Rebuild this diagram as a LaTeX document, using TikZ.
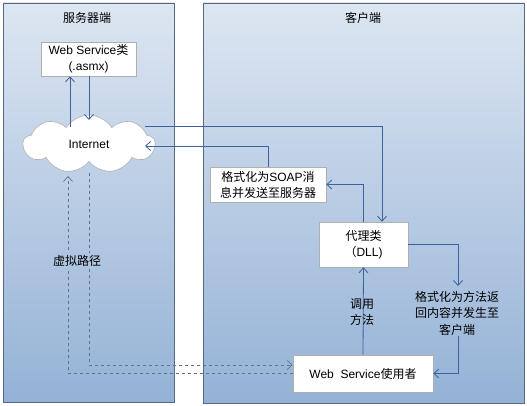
\documentclass[tikz,border=0pt]{standalone}
\usepackage{fontspec}
\setmainfont{Liberation Sans}
\newfontfamily\cjk{Noto Sans CJK SC}
\newcommand{\zh}[1]{{\cjk #1}}
\usetikzlibrary{shapes.symbols,arrows.meta}
\definecolor{paneltop}{RGB}{221,230,242}
\definecolor{panelbot}{RGB}{148,178,214}
\definecolor{panelmid}{RGB}{174,197,224}
\definecolor{panelborder}{RGB}{88,106,130}
\definecolor{linec}{RGB}{62,98,158}
\definecolor{dashc}{RGB}{95,115,145}
\definecolor{boxborder}{RGB}{175,175,175}
\begin{document}
\begin{tikzpicture}[x=1pt,y=-1pt,
  panel/.style={draw=panelborder,line width=0.8pt,top color=paneltop,bottom color=panelbot},
  box/.style={draw=boxborder,fill=white,line width=0.6pt,inner sep=0pt,align=center,font=\fontsize{12}{16}\selectfont},
  lbl/.style={inner sep=1pt,align=center,font=\fontsize{12}{16.5}\selectfont},
  arr/.style={draw=linec,line width=0.8pt,-{Straight Barb[length=5pt,width=9pt]}},
  darr/.style={draw=dashc,line width=0.7pt,dash pattern=on 3pt off 3pt,-{Straight Barb[length=5pt,width=9pt]}}
]
\useasboundingbox (0,0) rectangle (527,406);
% panels
\path[panel] (3,3) rectangle (174,402);
\path[panel] (203,3) rectangle (524,403);
\node[lbl] (tserver) at (87,18) {\zh{服务器端}};
\node[lbl] (tclient) at (363,18) {\zh{客户端}};
% nodes
\node[box,minimum width=95pt,minimum height=34pt] (ws) at (88.5,59) {Web Service\zh{类}\\(.asmx)};
\node[cloud,cloud puffs=9,cloud puff arc=115,aspect=2.3,draw=boxborder,fill=white,line width=0.6pt,
      minimum width=132pt,minimum height=58pt,inner sep=0pt,font=\fontsize{12}{16}\selectfont] (cloud) at (89,144) {Internet};
\node[box,minimum width=116pt,minimum height=35pt] (soap) at (268,184.5) {\zh{格式化为}SOAP\zh{消}\\\zh{息并发送至服务器}};
\node[box,minimum width=89pt,minimum height=45pt] (dll) at (363.5,244.5) {\zh{代理类}\\\zh{（}DLL)};
\node[box,minimum width=140pt,minimum height=37pt] (user) at (363,373.5) {Web\ \ Service\zh{使用者}};
% coordinates
\coordinate (c1) at (70,127);
\coordinate (c2) at (89,120);
\coordinate (c3) at (145,126);
\coordinate (c4) at (145,146);
\coordinate (c5) at (458,286);
\coordinate (c6) at (458,336);
\coordinate (c7) at (89,173);
\coordinate (c8) at (68,176);
% solid connectors
\draw[arr] (c1) -- (c1 |- ws.south);
\draw[arr] (c2 |- ws.south) -- (c2);
\draw[arr] (c3) -| ([xshift=18.5pt]dll.north);
\draw[arr] (soap.north) |- (c4);
\draw[arr] (dll.north) |- (soap.east);
\draw[arr] (dll.east) -| (c5);
\node[lbl] (ret) at (457,313) {\zh{格式化为方法返}\\\zh{回内容并发生至}\\\zh{客户端}};
\draw[arr] (c6) |- (user.east);
\draw[arr] (user.north) -- (dll.south);
\node[lbl] (call) at (362,312) {\zh{调用}\\\zh{方法}};
% dashed connectors
\draw[darr] (c7) |- ([yshift=8.5pt]user.west);
\draw[darr] (user.west) -| (c8);
\node[lbl,fill=panelmid,inner sep=2pt] (virt) at (77,261) {\zh{虚拟路径}};
\end{tikzpicture}
\end{document}
